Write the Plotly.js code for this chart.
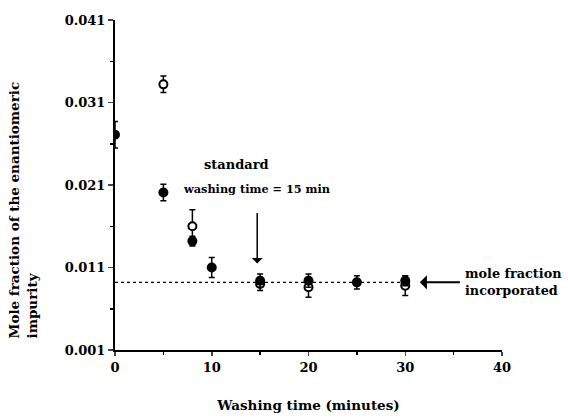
<!DOCTYPE html>
<html><head><meta charset="utf-8">
<script src="https://cdn.plot.ly/plotly-3.0.1.min.js"></script>
<style>body{margin:0;background:#fff}#c{width:568px;height:419px}</style>
</head><body><div id="c"></div>
<script>
const timeFilled = [0, 5, 8, 10, 15, 20, 25, 30];
const fracFilled = [0.0271, 0.0201, 0.0142, 0.0110, 0.0094, 0.0094, 0.0092, 0.0094];
const errFilled  = [0.0016, 0.0010, 0.0006, 0.0012, 0.0008, 0.0008, 0.0008, 0.0006];
const timeOpen = [5, 8, 15, 20, 30];
const fracOpen = [0.0332, 0.0160, 0.0090, 0.0086, 0.0088];
const errOpen  = [0.0010, 0.0020, 0.0008, 0.0012, 0.0012];
const incorporatedX = [0, 30.5];
const incorporatedY = [0.0092, 0.0092];
const yTicks = [0.001, 0.011, 0.021, 0.031, 0.041];
const yTickText = ['0.001', '0.011', '0.021', '0.031', '0.041'];
const xTicks = [0, 10, 20, 30, 40];

const F = 'DejaVu Serif, serif';
const traces = [
  {x: incorporatedX, y: incorporatedY, mode: 'lines', line: {color: '#000', width: 1.3, dash: 'dot'}, hoverinfo: 'skip'},
  {x: timeOpen, y: fracOpen, mode: 'markers',
   marker: {symbol: 'circle', size: 8, color: '#fff', line: {color: '#000', width: 2}},
   error_y: {type: 'data', array: errOpen, visible: true, color: '#000', thickness: 1.5, width: 3}},
  {x: timeFilled, y: fracFilled, mode: 'markers',
   marker: {symbol: 'circle', size: 10, color: '#000'},
   error_y: {type: 'data', array: errFilled, visible: true, color: '#000', thickness: 1.5, width: 3}}
];
const layout = {
  width: 568, height: 419, showlegend: false,
  paper_bgcolor: '#fff', plot_bgcolor: '#fff',
  margin: {l: 115, r: 66, t: 20, b: 69},
  font: {family: F, color: '#000', size: 12},
  xaxis: {range: [0, 40], tickvals: xTicks, ticks: 'outside', ticklen: 4, tickwidth: 1.5,
    showline: true, linecolor: '#000', linewidth: 2, showgrid: false, zeroline: false,
    tickfont: {family: F, size: 13, weight: 'bold'},
    minor: {tickvals: [5, 15, 25, 35], ticks: 'outside', ticklen: 3, tickcolor: '#000'},
    title: {text: '<b>Washing time (minutes)</b>', font: {family: F, size: 13.5}, standoff: 27}},
  yaxis: {range: [0.001, 0.041], tickvals: yTicks, ticktext: yTickText, ticks: 'outside', ticklen: 5, tickwidth: 1.5,
    showline: true, linecolor: '#000', linewidth: 2, showgrid: false, zeroline: false,
    tickfont: {family: F, size: 13, weight: 'bold'},
    minor: {tickvals: [0.006, 0.016, 0.026, 0.036], ticks: 'outside', ticklen: 3, tickcolor: '#000'}},
  annotations: [
    {xref: 'paper', yref: 'paper', x: -0.238, y: 0.03, xanchor: 'center', yanchor: 'bottom', textangle: -90, align: 'left',
     text: '<b>Mole fraction of the enantiomeric<br>impurity</b>', showarrow: false, font: {family: F, size: 13.5}},
    {xref: 'x', yref: 'y', x: 12.6, y: 0.0235, text: '<b>standard</b>', showarrow: false, font: {family: F, size: 13}},
    {xref: 'x', yref: 'y', x: 6.8, y: 0.0205, xanchor: 'left', text: '<b>washing time = 15 min</b>', showarrow: false, font: {family: F, size: 11.3}},
    {xref: 'x', yref: 'y', x: 14.7, y: 0.0115, ax: 14.7, ay: 0.0178, axref: 'x', ayref: 'y',
     showarrow: true, arrowhead: 1, arrowsize: 1.2, arrowwidth: 1.5, arrowcolor: '#000', text: ''},
    {xref: 'x', yref: 'y', x: 31.5, y: 0.0092, ax: 35.8, ay: 0.0092, axref: 'x', ayref: 'y',
     showarrow: true, arrowhead: 1, arrowsize: 1.2, arrowwidth: 2, arrowcolor: '#000', text: ''},
    {xref: 'x', yref: 'y', x: 36.0, y: 0.0092, xanchor: 'left', align: 'left',
     text: '<b>mole fraction<br>incorporated</b>', showarrow: false, font: {family: F, size: 12.8}}
  ]
};
Plotly.newPlot('c', traces, layout, {displayModeBar: false, staticPlot: true});
</script></body></html>
